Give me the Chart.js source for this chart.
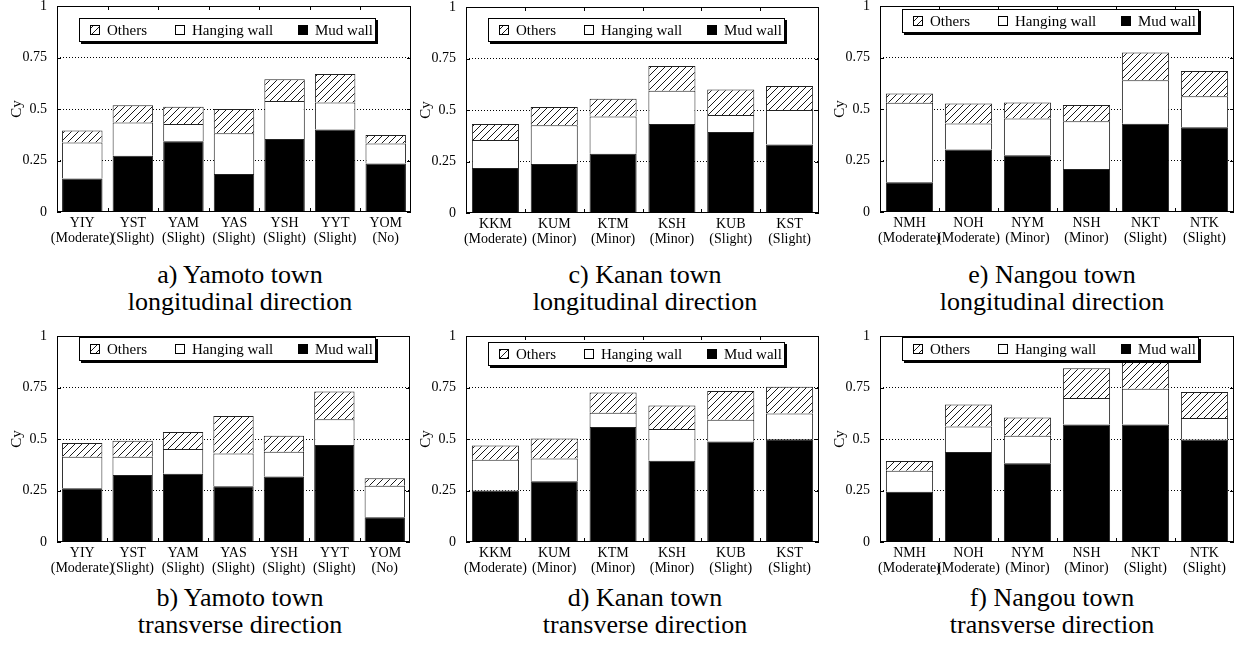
<!DOCTYPE html>
<html>
<head>
<meta charset="utf-8">
<script src="https://cdn.jsdelivr.net/npm/chart.js@4.4.1/dist/chart.umd.min.js"></script>
<style>
  body { margin: 0; background: #fff; width: 1241px; height: 648px; position: relative; overflow: hidden;
         font-family: "Liberation Serif", "Times New Roman", serif; }
  canvas { position: absolute; }
  .caption { position: absolute; width: 400px; text-align: center; font-size: 26px; line-height: 27px; color: #000; }
</style>
</head>
<body>
<canvas id="chartA"></canvas>
<canvas id="chartC"></canvas>
<canvas id="chartE"></canvas>
<canvas id="chartB"></canvas>
<canvas id="chartD"></canvas>
<canvas id="chartF"></canvas>
<div class="caption" style="left:40px;top:261px">a) Yamoto town<br>longitudinal direction</div>
<div class="caption" style="left:445px;top:261px">c) Kanan town<br>longitudinal direction</div>
<div class="caption" style="left:852px;top:261px">e) Nangou town<br>longitudinal direction</div>
<div class="caption" style="left:40px;top:584px">b) Yamoto town<br>transverse direction</div>
<div class="caption" style="left:445px;top:584px">d) Kanan town<br>transverse direction</div>
<div class="caption" style="left:852px;top:584px">f) Nangou town<br>transverse direction</div>
<script>
// legend / series names
const seriesMud = "Mud wall";
const seriesHanging = "Hanging wall";
const seriesOthers = "Others";

// categories
const yamotoSites = ["YIY", "YST", "YAM", "YAS", "YSH", "YYT", "YOM"];
const yamotoDamage = ["(Moderate)", "(Slight)", "(Slight)", "(Slight)", "(Slight)", "(Slight)", "(No)"];
const kananSites = ["KKM", "KUM", "KTM", "KSH", "KUB", "KST"];
const kananDamage = ["(Moderate)", "(Minor)", "(Minor)", "(Minor)", "(Slight)", "(Slight)"];
const nangouSites = ["NMH", "NOH", "NYM", "NSH", "NKT", "NTK"];
const nangouDamage = ["(Moderate)", "(Moderate)", "(Minor)", "(Minor)", "(Slight)", "(Slight)"];

// a) Yamoto town, longitudinal
const yamotoLongMud = [0.163, 0.273, 0.343, 0.184, 0.354, 0.401, 0.235];
const yamotoLongHanging = [0.174, 0.162, 0.084, 0.198, 0.185, 0.131, 0.098];
const yamotoLongOthers = [0.059, 0.083, 0.084, 0.118, 0.105, 0.138, 0.041];

// b) Yamoto town, transverse
const yamotoTransMud = [0.261, 0.325, 0.331, 0.271, 0.318, 0.471, 0.120];
const yamotoTransHanging = [0.153, 0.089, 0.120, 0.159, 0.120, 0.125, 0.153];
const yamotoTransOthers = [0.067, 0.078, 0.083, 0.182, 0.078, 0.135, 0.037];

// c) Kanan town, longitudinal
const kananLongMud = [0.218, 0.238, 0.288, 0.432, 0.393, 0.332];
const kananLongHanging = [0.136, 0.188, 0.181, 0.162, 0.083, 0.168];
const kananLongOthers = [0.078, 0.089, 0.086, 0.120, 0.123, 0.117];

// d) Kanan town, transverse
const kananTransMud = [0.250, 0.295, 0.558, 0.395, 0.488, 0.499];
const kananTransHanging = [0.149, 0.110, 0.069, 0.153, 0.105, 0.125];
const kananTransOthers = [0.069, 0.097, 0.099, 0.115, 0.140, 0.130];

// e) Nangou town, longitudinal
const nangouLongMud = [0.144, 0.304, 0.276, 0.209, 0.428, 0.412];
const nangouLongHanging = [0.386, 0.126, 0.178, 0.231, 0.212, 0.150];
const nangouLongOthers = [0.045, 0.097, 0.078, 0.080, 0.134, 0.122];

// f) Nangou town, transverse
const nangouTransMud = [0.244, 0.437, 0.382, 0.570, 0.570, 0.497];
const nangouTransHanging = [0.102, 0.124, 0.134, 0.129, 0.174, 0.105];
const nangouTransOthers = [0.047, 0.106, 0.088, 0.144, 0.136, 0.126];

const yTickValues = [0, 0.25, 0.5, 0.75, 1];

const FONT = '"Liberation Serif", "Times New Roman", serif';

// diagonal hatch for "Others"
const makeHatch = () => {
    const s = 7;
    const tile = document.createElement("canvas");
    tile.width = s;
    tile.height = s;
    const c = tile.getContext("2d");
    c.fillStyle = "#fff";
    c.fillRect(0, 0, s, s);
    c.strokeStyle = "#000";
    c.lineWidth = 0.9;
    c.beginPath();
    c.moveTo(0, s);
    c.lineTo(s, 0);
    c.moveTo(-1, 1);
    c.lineTo(1, -1);
    c.moveTo(s - 1, s + 1);
    c.lineTo(s + 1, s - 1);
    c.stroke();
    return c.createPattern(tile, "repeat");
};

// frame, inner ticks and the boxed legend
const framePlugin = {
    id: "frame",
    afterDatasetsDraw(chart, args, opts) {
        const { ctx, chartArea: a, scales } = chart;
        const x = scales.x, y = scales.y;
        ctx.save();
        ctx.strokeStyle = "#000";
        ctx.lineWidth = 1;
        ctx.setLineDash([]);
        ctx.strokeRect(a.left + 0.5, a.top + 0.5, a.right - a.left - 1, a.bottom - a.top - 1);

        ctx.beginPath();
        const n = chart.data.labels.length;
        for (let i = 1; i < n; i++) {
            const px = Math.round((x.getPixelForTick(i - 1) + x.getPixelForTick(i)) / 2) + 0.5;
            ctx.moveTo(px, a.bottom);
            ctx.lineTo(px, a.bottom - 4);
            ctx.moveTo(px, a.top);
            ctx.lineTo(px, a.top + 4);
        }
        y.ticks.forEach((t) => {
            const py = Math.round(y.getPixelForValue(t.value)) + 0.5;
            ctx.moveTo(a.left, py);
            ctx.lineTo(a.left + 4, py);
            ctx.moveTo(a.right, py);
            ctx.lineTo(a.right - 4, py);
        });
        ctx.stroke();

        // legend box with shadow
        const bx = a.left + 22, by = a.top + opts.legendTop, bw = 297, bh = 24;
        ctx.fillStyle = "#000";
        ctx.fillRect(bx + 2, by + 2, bw, bh);
        ctx.fillStyle = "#fff";
        ctx.fillRect(bx, by, bw, bh);
        ctx.strokeRect(bx + 0.5, by + 0.5, bw - 1, bh - 1);
        const offs = [11, 96, 219];
        const items = chart.data.datasets.slice().reverse();
        ctx.font = "15px " + FONT;
        ctx.textBaseline = "middle";
        items.forEach((ds, i) => {
            const sx = bx + offs[i], sy = by + 7;
            ctx.fillStyle = ds.backgroundColor;
            ctx.fillRect(sx, sy, 10, 10);
            ctx.strokeRect(sx + 0.5, sy + 0.5, 9, 9);
            ctx.fillStyle = "#000";
            ctx.fillText(ds.label, sx + 17, by + bh / 2 + 1);
        });
        ctx.restore();
    },
};

const hatch = makeHatch();

const makeChart = (id, sites, damage, mud, hanging, others, left, top, plotW, legendTop) => {
    const canvas = document.getElementById(id);
    const W = plotW + 57 + 8, H = 206 + 6 + 40;
    canvas.width = W;
    canvas.height = H;
    canvas.style.left = (left - 57) + "px";
    canvas.style.top = (top - 6) + "px";

    const labels = sites.map((s, i) => [s, damage[i]]);
    const common = { borderColor: "#222", borderWidth: 1, categoryPercentage: 0.8, barPercentage: 1 };
    return new Chart(canvas, {
        type: "bar",
        data: {
            labels: labels,
            datasets: [
                Object.assign({ label: seriesMud, data: mud, backgroundColor: "#000" }, common),
                Object.assign({ label: seriesHanging, data: hanging, backgroundColor: "#fff" }, common),
                Object.assign({ label: seriesOthers, data: others, backgroundColor: hatch }, common),
            ],
        },
        options: {
            responsive: false,
            animation: false,
            layout: { padding: { top: 6, right: 8, left: 0, bottom: 0 } },
            plugins: {
                legend: { display: false },
                tooltip: { enabled: false },
                frame: { legendTop: legendTop },
            },
            scales: {
                x: {
                    stacked: true,
                    grid: { display: false, drawTicks: false },
                    border: { display: false },
                    ticks: {
                        color: "#000",
                        font: { family: FONT, size: 14, lineHeight: 1.07 },
                        padding: 4,
                        maxRotation: 0,
                        autoSkip: false,
                    },
                    afterFit(s) {
                        s.height = 40;
                        s.paddingLeft = 0;
                        s.paddingRight = 0;
                    },
                },
                y: {
                    stacked: true,
                    min: 0,
                    max: 1,
                    afterBuildTicks(s) {
                        s.ticks = yTickValues.map((v) => ({ value: v }));
                    },
                    ticks: {
                        color: "#000",
                        font: { family: FONT, size: 14 },
                        padding: 10,
                        callback: (v) => String(v),
                    },
                    grid: {
                        color: (c) => (c.tick && (c.tick.value === 0 || c.tick.value === 1)) ? "rgba(0,0,0,0)" : "#000",
                        lineWidth: 1,
                        drawTicks: false,
                    },
                    border: { display: false, dash: [1, 2] },
                    title: {
                        display: true,
                        text: "Cy",
                        color: "#000",
                        font: { family: FONT, size: 15 },
                        padding: { top: 8, bottom: 0 },
                    },
                    afterFit(s) {
                        s.width = 57;
                        s.paddingTop = 0;
                        s.paddingBottom = 0;
                    },
                },
            },
        },
        plugins: [framePlugin],
    });
};

makeChart("chartA", yamotoSites, yamotoDamage, yamotoLongMud, yamotoLongHanging, yamotoLongOthers, 57, 6, 354, 12);
makeChart("chartC", kananSites, kananDamage, kananLongMud, kananLongHanging, kananLongOthers, 466, 7, 353, 11);
makeChart("chartE", nangouSites, nangouDamage, nangouLongMud, nangouLongHanging, nangouLongOthers, 880, 6, 354, 3);
makeChart("chartB", yamotoSites, yamotoDamage, yamotoTransMud, yamotoTransHanging, yamotoTransOthers, 57, 336, 353, 1);
makeChart("chartD", kananSites, kananDamage, kananTransMud, kananTransHanging, kananTransOthers, 466, 336, 353, 6);
makeChart("chartF", nangouSites, nangouDamage, nangouTransMud, nangouTransHanging, nangouTransOthers, 880, 336, 354, 1);
</script>
</body>
</html>
